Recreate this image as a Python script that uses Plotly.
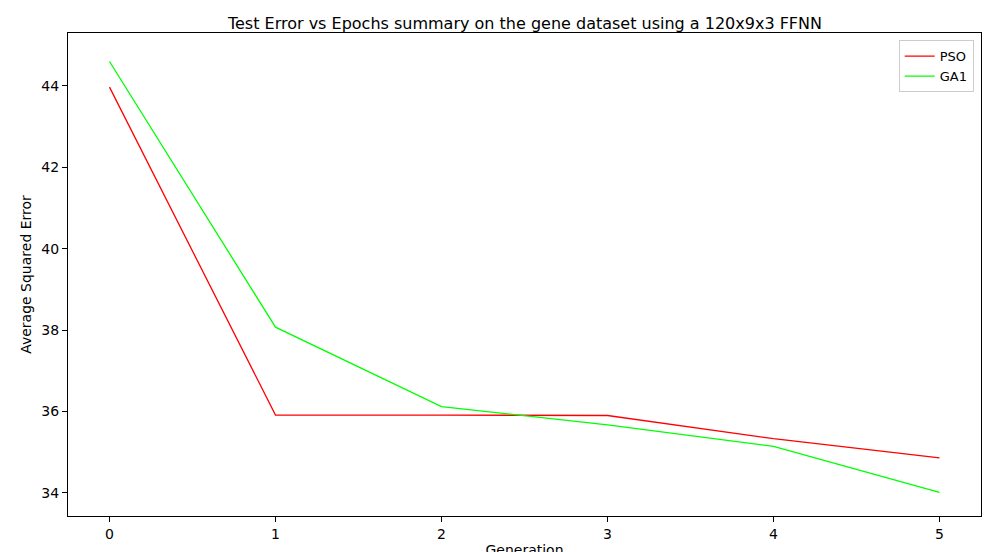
import plotly.graph_objects as go

generation = [0, 1, 2, 3, 4, 5]
pso = [43.97, 35.91, 35.91, 35.90, 35.33, 34.86]
ga1 = [44.60, 38.07, 36.12, 35.67, 35.14, 34.01]

fig = go.Figure()
fig.add_trace(go.Scatter(x=generation, y=pso, mode='lines', name='PSO',
                         line=dict(color='#ff0000', width=1.3)))
fig.add_trace(go.Scatter(x=generation, y=ga1, mode='lines', name='GA1',
                         line=dict(color='#00ff00', width=1.3)))

axis_style = dict(showline=True, linecolor='black', linewidth=1, mirror=True,
                  ticks='outside', ticklen=5, tickcolor='black', showgrid=False,
                  zeroline=False, automargin=False, tickfont=dict(size=14, color='black'))

fig.update_layout(
    width=1000, height=552,
    paper_bgcolor='white', plot_bgcolor='white',
    font=dict(family='DejaVu Sans', color='black'),
    title=dict(text='Test Error vs Epochs summary on the gene dataset using a 120x9x3 FFNN',
               x=0.517, xanchor='center', y=0.982, yanchor='top', font=dict(size=16)),
    margin=dict(l=60, r=27, t=25, b=44),
    xaxis=dict(range=[-0.25, 5.25], tickvals=generation,
               title=dict(text='Generation', font=dict(size=14), standoff=4), **axis_style),
    yaxis=dict(range=[33.43, 45.3], tickvals=[34, 36, 38, 40, 42, 44],
               title=dict(text='Average Squared Error', font=dict(size=14), standoff=6), **axis_style),
    legend=dict(x=0.992, y=0.985, xanchor='right', yanchor='top',
                bordercolor='#cccccc', borderwidth=1, font=dict(size=13)),
)

fig.write_html("out.html")
